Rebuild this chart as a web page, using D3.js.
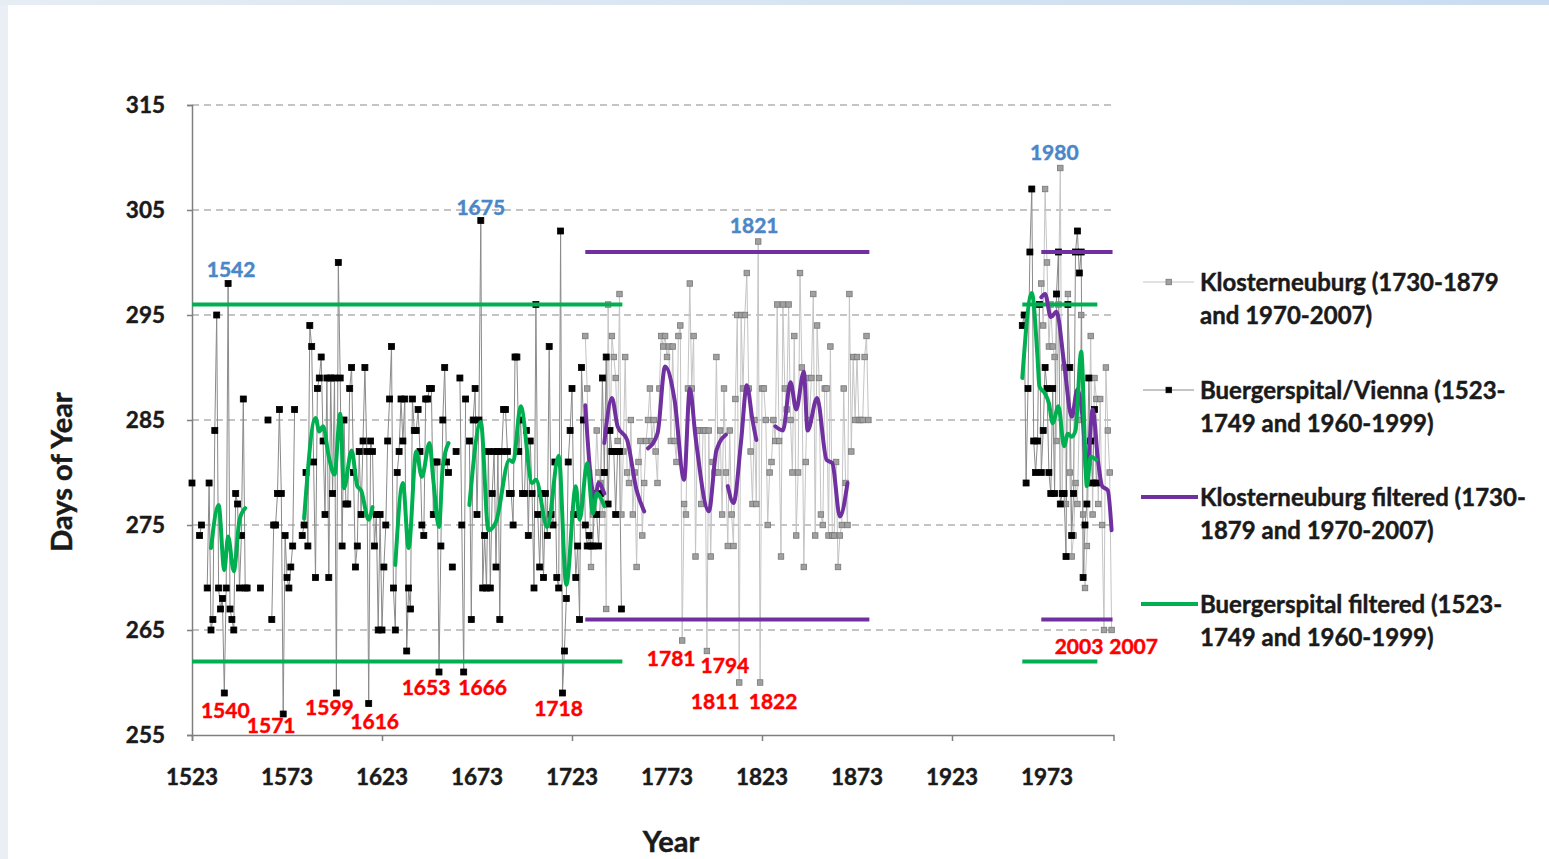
<!DOCTYPE html>
<html><head><meta charset="utf-8">
<script src="https://cdn.jsdelivr.net/npm/d3@7"></script>
<style>
html,body{margin:0;padding:0;background:#fff;}
svg{display:block;}
text{font-family:Lato,"Open Sans",sans-serif;font-weight:700;stroke-width:0.45px;}
</style></head><body>
<svg id="chart" width="1549" height="859"></svg>
<script>
// Harvest day of year, Buergerspital/Vienna (1523–1749, 1960–1999)
const buergerStart1 = 1523;
const buergerValues1 = [
  279, null, null, null, 274, 275, null, null, 269, 279,
  265, 266, 284, 295, 269, 267, 268, 259, 269, 298,
  267, 266, 265, 278, 277, 269, 274, 287, 269, 269,
  null, null, null, null, null, null, 269, null, null, null,
  285, null, 266, 275, 275, 278, 286, 278, 257, 274,
  270, 269, 271, 273, 286, null, null, null, 274, 275,
  280, 273, 294, 292, 281, 270, 288, 289, 291, 283,
  276, 289, 270, 289, 278, 289, 259, 300, 289, 273,
  285, 277, 277, 288, 290, 280, 271, 273, 282, 276,
  283, 290, 282, 258, 283, 282, 273, 276, 265, 276,
  265, 271, 275, 283, 287, 292, 269, 265, 280, 282,
  287, 283, 287, 263, 269, 267, 287, 284, 284, 286,
  282, 275, 274, 287, 287, 288, 288, 276, 281, 281,
  261, 273, 285, 290, 281, 280, null, 271, null, 282,
  null, 289, 275, 261, 287, null, 283, 266, 285, 288,
  276, 285, 304, 269, 274, 269, 282, 269, 278, 282,
  271, 282, 266, 282, 286, 286, 282, 278, 278, 275,
  291, 291, 282, 285, 278, 278, 284, 274, 283, 278,
  269, 296, 276, 271, 278, 270, 278, 274, 292, 276,
  275, 281, 270, 269, 303, 259, 263, 268, 281, 284,
  288, 276, 270, 273, 266, 290, 285, 275, 273, 274,
  273, 273, 278, 276, 273, 278, 289, 280, 291, 277,
  284, 282, 282, 276, 282, 282, 267
];
const buergerStart2 = 1960;
const buergerValues2 = [
  294, 295, 279, 288, 301, 307, 283, 280, 283, 296,
  280, 284, 290, 288, 280, 278, 288, 278, 297, 301,
  277, 278, 278, 272, 296, 290, 274, 278, 301, 303,
  299, 301, 270, 275, 277, 289, 283, 279, 286, 279
];

// Harvest day of year, Klosterneuburg (1730–1879, 1970–2007)
const klosterStart1 = 1730;
const klosterValues1 = [
  293, 288, 280, 271, 276, 278, 284, 280, 279, 276,
  280, 267, 296, 282, 293, 291, 289, 283, 297, 276,
  282, 291, 280, 279, 285, 276, 280, 271, 281, 283,
  274, 279, 283, 285, 288, 283, 285, 282, 279, 288,
  293, 292, 293, 291, 292, 283, 292, 283, 281, 293,
  294, 264, 277, 276, 288, 298, 288, 293, 272, 284,
  284, 277, 284, 284, 263, 284, 272, 281, 280, 291,
  280, 284, 276, 288, 280, 273, 284, 276, 273, 287,
  295, 260, 295, 288, 295, 299, 288, 282, 277, 285,
  277, 302, 260, 288, 288, 285, 275, 280, 281, 285,
  283, 296, 283, 272, 296, 288, 286, 296, 285, 280,
  293, 274, 280, 299, 290, 271, 281, 289, 285, 289,
  297, 274, 294, 289, 276, 275, 288, 288, 274, 292,
  274, 274, 281, 271, 274, 275, 288, 279, 275, 297,
  282, 291, 285, 291, 285, 285, 285, 291, 293, 285
];
const klosterStart2 = 1970;
const klosterValues2 = [
  298, 294, 307, 300, 292, 296, 292, 291, 283, 296,
  309, 278, 290, 277, 297, 280, 272, 274, 279, 277,
  285, 295, 276, 269, 273, 281, 293, 276, 289, 287,
  277, 287, 275, 265, 290, 284, 280, 265
];

// Filtered curves (null separates the pieces)
const klosterFilteredYears = [
  1730, 1733, 1735, 1737, 1740, null,
  1740, 1744, 1747, 1752, 1757, 1761, null,
  1763, 1768, 1772, 1777, 1782, 1785, 1788, 1795, 1799, 1804, null,
  1805, 1808, 1812, 1815, 1818, 1820, null,
  1830, 1834, 1838, 1841, 1845, 1847, 1852, 1857, 1860, 1864, 1868, null,
  1970, 1972, 1975, 1978, 1982, 1986, 1989, 1992, 1994, 1997, 2000, 2002, 2005, 2007
];
const klosterFilteredValues = [
  286.4, 279.3, 277.4, 279.0, 278.0, null,
  282.8, 287.1, 284.4, 283.1, 278.3, 276.3, null,
  282.3, 283.7, 290.1, 286.9, 279.3, 288.0, 283.4, 276.3, 282.1, 283.6, null,
  278.7, 277.1, 283.0, 288.3, 285.0, 283.1, null,
  284.4, 284.0, 288.6, 286.0, 289.6, 284.0, 287.1, 281.2, 280.9, 275.8, 279.0, null,
  296.7, 297.0, 294.8, 295.3, 290.4, 285.3, 287.9, 284.7, 279.6, 286.0, 280.9, 278.7, 278.3, 274.5
];
const buergerFilteredYears = [
  1533, 1537, 1540, 1542, 1545, 1548, 1551, null,
  1582, 1588, 1590, 1592, 1595, 1598, 1601, 1603, 1607, 1610, 1612, 1616, 1618, null,
  1630, 1634, 1637, 1641, 1644, 1648, 1650, 1653, 1655, 1658, null,
  1669, 1675, 1679, 1683, 1690, 1692, 1696, 1702, 1704, 1710, 1716, 1720, 1725, 1727, 1731, 1734, 1736, 1740, null,
  1960, 1965, 1968, 1969, 1972, 1974, 1976, 1979, 1982, 1984, 1986, 1988, 1991, 1994, 1996, 1999
];
const buergerFilteredValues = [
  272.8, 276.9, 270.7, 273.9, 270.6, 275.5, 276.6, null,
  275.6, 285.2, 283.9, 284.4, 281.5, 279.8, 285.6, 278.5, 282.1, 278.7, 278.3, 275.5, 276.7, null,
  271.2, 279.0, 272.8, 282.0, 279.6, 282.8, 279.3, 274.8, 280.6, 282.8, null,
  276.9, 284.8, 274.5, 275.3, 281.2, 281.0, 286.3, 279.0, 279.3, 274.8, 281.6, 269.3, 278.7, 275.5, 280.9, 276.1, 278.0, 276.8, null,
  289.0, 297.1, 291.0, 288.2, 287.5, 286.6, 284.7, 286.3, 282.5, 283.7, 283.4, 284.0, 291.5, 278.7, 281.5, 281.2
];

// Threshold bands (upper and lower limits per record and period)
const thresholdSeries = ["buerger", "buerger", "kloster", "kloster", "buerger", "buerger", "kloster", "kloster"];
const thresholdFrom = [1523, 1523, 1730, 1730, 1960, 1960, 1970, 1970];
const thresholdTo = [1749.5, 1749.5, 1879.5, 1879.5, 1999.5, 1999.5, 2007.5, 2007.5];
const thresholdValues = [296, 262, 301, 266, 296, 262, 301, 266];

// Extreme years
const lateYears = [1542, 1675, 1821, 1980];
const lateValues = [298, 304, 302, 309];
const earlyYears = [1540, 1571, 1599, 1616, 1653, 1666, 1718, 1781, 1794, 1811, 1822, 2003, 2007];
const earlyValues = [259, 257, 259, 258, 261, 261, 259, 264, 263, 260, 260, 265, 265];
const lateDx = [3, 0, -4, -6];
const lateDy = [-7, -6, -9, -8];
const earlyDx = [1, -12, -7, 6, -13, 19, -4, -11, 18, -24, 13, -25, 22];
const earlyDy = [25, 19, 22, 25, 23, 23, 23, 25, 22, 26, 26, 24, 24];

// Axis ticks
const yTicks = [255, 265, 275, 285, 295, 305, 315];
const xTickLabels = [1523, 1573, 1623, 1673, 1723, 1773, 1823, 1873, 1923, 1973];
const xTickMarks = [1523, 1623, 1723, 1823, 1923];

const legendLabels = [
  ["Klosterneuburg (1730-1879", "and 1970-2007)"],
  ["Buergerspital/Vienna (1523-", "1749 and 1960-1999)"],
  ["Klosterneuburg filtered (1730-", "1879 and 1970-2007)"],
  ["Buergerspital filtered (1523-", "1749 and 1960-1999)"]
];

const COLORS = {
  kloster: "#8f8f8f", klosterLine: "#c4c4c4",
  buerger: "#000000", buergerLine: "#8a8a8a",
  purple: "#7030a0", green: "#00b050",
  late: "#4a86c8", early: "#ff0000",
  grid: "#8a8a8a", axis: "#7f7f7f", text: "#1a1a1a"
};

const svg = d3.select("#chart");

// page frame
const bgGrad = svg.append("defs").append("linearGradient").attr("id", "topband");
bgGrad.append("stop").attr("offset", "0%").attr("stop-color", "#e6edf3");
bgGrad.append("stop").attr("offset", "100%").attr("stop-color", "#c9dcf0");
svg.append("rect").attr("width", 1549).attr("height", 859).attr("fill", "#e9eff4");
svg.append("rect").attr("width", 1549).attr("height", 5).attr("fill", "url(#topband)");
svg.append("rect").attr("x", 8).attr("y", 5).attr("width", 1541).attr("height", 854).attr("fill", "#ffffff");

const x = d3.scaleLinear().domain([1523, 2008]).range([192, 1113.5]);
const y = d3.scaleLinear().domain([255, 315]).range([735, 105]);

// gridlines
svg.append("g").selectAll("line").data(yTicks.filter(t => t > 255)).join("line")
  .attr("x1", x(1523)).attr("x2", x(2008))
  .attr("y1", d => y(d)).attr("y2", d => y(d))
  .attr("stroke", COLORS.grid).attr("stroke-width", 1.2).attr("stroke-dasharray", "7,5");

// y axis
const yAxis = svg.append("g").attr("transform", `translate(${x(1523)},0)`)
  .call(d3.axisLeft(y).tickValues(yTicks).tickSize(5).tickPadding(22).tickFormat(d3.format("d")));
yAxis.select(".domain").attr("stroke", COLORS.axis).attr("stroke-width", 1.5);
yAxis.selectAll(".tick line").attr("stroke", COLORS.axis).attr("stroke-width", 1.5);
yAxis.selectAll(".tick text").attr("font-size", 22.5).attr("fill", COLORS.text).attr("stroke", COLORS.text)
  .style("font-family", "Lato").style("font-weight", 700);

// x axis: marks every 100 years, labels every 50
const xAxisMarks = svg.append("g").attr("transform", `translate(0,${y(255)})`)
  .call(d3.axisBottom(x).tickValues(xTickMarks).tickSize(6).tickFormat(""));
xAxisMarks.select(".domain").attr("stroke", COLORS.axis).attr("stroke-width", 1.5);
xAxisMarks.selectAll(".tick line").attr("stroke", COLORS.axis).attr("stroke-width", 1.5);
svg.append("g").selectAll("text").data(xTickLabels).join("text")
  .attr("x", d => x(d)).attr("y", 785).attr("text-anchor", "middle")
  .attr("font-size", 22.5).attr("fill", COLORS.text).attr("stroke", COLORS.text).text(d => d);

// axis titles
svg.append("text").attr("x", 671).attr("y", 852).attr("text-anchor", "middle")
  .attr("font-size", 29).attr("fill", COLORS.text).attr("stroke", COLORS.text).text("Year");
svg.append("text").attr("transform", "translate(72,472) rotate(-90)").attr("text-anchor", "middle")
  .attr("font-size", 29).attr("fill", COLORS.text).attr("stroke", COLORS.text).text("Days of Year");

const toRows = (start, values) => values.map((v, i) => ({ year: start + i, v }));
const kloster = [toRows(klosterStart1, klosterValues1), toRows(klosterStart2, klosterValues2)];
const buerger = [toRows(buergerStart1, buergerValues1), toRows(buergerStart2, buergerValues2)];

const line = d3.line().defined(d => d.v != null).x(d => x(d.year)).y(d => y(d.v));

function drawRaw(groups, lineColor, markColor, markStroke, size) {
  const g = svg.append("g");
  groups.forEach(rows => {
    g.append("path").attr("d", line(rows)).attr("fill", "none")
      .attr("stroke", lineColor).attr("stroke-width", 1);
  });
  groups.forEach(rows => {
    g.append("g").selectAll("rect").data(rows.filter(d => d.v != null)).join("rect")
      .attr("x", d => x(d.year) - size / 2).attr("y", d => y(d.v) - size / 2)
      .attr("width", size).attr("height", size)
      .attr("fill", markColor).attr("stroke", markStroke).attr("stroke-width", 0.8);
  });
}
drawRaw(kloster, COLORS.klosterLine, "#a0a0a0", "#777777", 5.5);
drawRaw(buerger, COLORS.buergerLine, "#000", "#000", 6);

// thresholds
svg.append("g").selectAll("line").data(thresholdValues).join("line")
  .attr("x1", (d, i) => x(thresholdFrom[i])).attr("x2", (d, i) => x(thresholdTo[i]))
  .attr("y1", d => y(d)).attr("y2", d => y(d))
  .attr("stroke", (d, i) => thresholdSeries[i] === "kloster" ? COLORS.purple : COLORS.green)
  .attr("stroke-width", 4);

// filtered curves
const pairs = (ys, vs) => ys.map((yr, i) => ({ year: yr, v: vs[i] }));
const smooth = d3.line().defined(d => d.v != null && d.year != null)
  .x(d => x(d.year)).y(d => y(d.v)).curve(d3.curveMonotoneX);
svg.append("path").attr("d", smooth(pairs(klosterFilteredYears, klosterFilteredValues)))
  .attr("fill", "none").attr("stroke", COLORS.purple).attr("stroke-width", 4)
  .attr("stroke-linejoin", "round").attr("stroke-linecap", "round");
svg.append("path").attr("d", smooth(pairs(buergerFilteredYears, buergerFilteredValues)))
  .attr("fill", "none").attr("stroke", COLORS.green).attr("stroke-width", 4)
  .attr("stroke-linejoin", "round").attr("stroke-linecap", "round");

// extreme-year labels
svg.append("g").selectAll("text").data(lateYears).join("text")
  .attr("x", (d, i) => x(d) + lateDx[i]).attr("y", (d, i) => y(lateValues[i]) + lateDy[i])
  .attr("text-anchor", "middle").attr("font-size", 21).attr("fill", COLORS.late).attr("stroke", COLORS.late).text(d => d);
svg.append("g").selectAll("text").data(earlyYears).join("text")
  .attr("x", (d, i) => x(d) + earlyDx[i]).attr("y", (d, i) => y(earlyValues[i]) + earlyDy[i])
  .attr("text-anchor", "middle").attr("font-size", 21).attr("fill", COLORS.early).attr("stroke", COLORS.early).text(d => d);

// legend
const legendY = [282, 390, 497, 604];
const lg = svg.append("g");
legendLabels.forEach((lines, i) => {
  const yy = legendY[i];
  if (i < 2) {
    lg.append("line").attr("x1", 1143).attr("x2", 1194).attr("y1", yy).attr("y2", yy)
      .attr("stroke", i === 0 ? COLORS.klosterLine : COLORS.buergerLine).attr("stroke-width", 1);
    lg.append("rect").attr("x", 1166).attr("y", yy - 2.75).attr("width", 5.5).attr("height", 5.5)
      .attr("fill", i === 0 ? "#a0a0a0" : "#000").attr("stroke", i === 0 ? "#777777" : "#000").attr("stroke-width", 0.8);
  } else {
    lg.append("line").attr("x1", 1141).attr("x2", 1198).attr("y1", yy).attr("y2", yy)
      .attr("stroke", i === 2 ? COLORS.purple : COLORS.green).attr("stroke-width", 4);
  }
  lines.forEach((t, j) => {
    lg.append("text").attr("x", 1200).attr("y", yy + 9 + j * 33)
      .attr("font-size", 24).attr("fill", COLORS.text).attr("stroke", COLORS.text).text(t);
  });
});
</script>
</body></html>
